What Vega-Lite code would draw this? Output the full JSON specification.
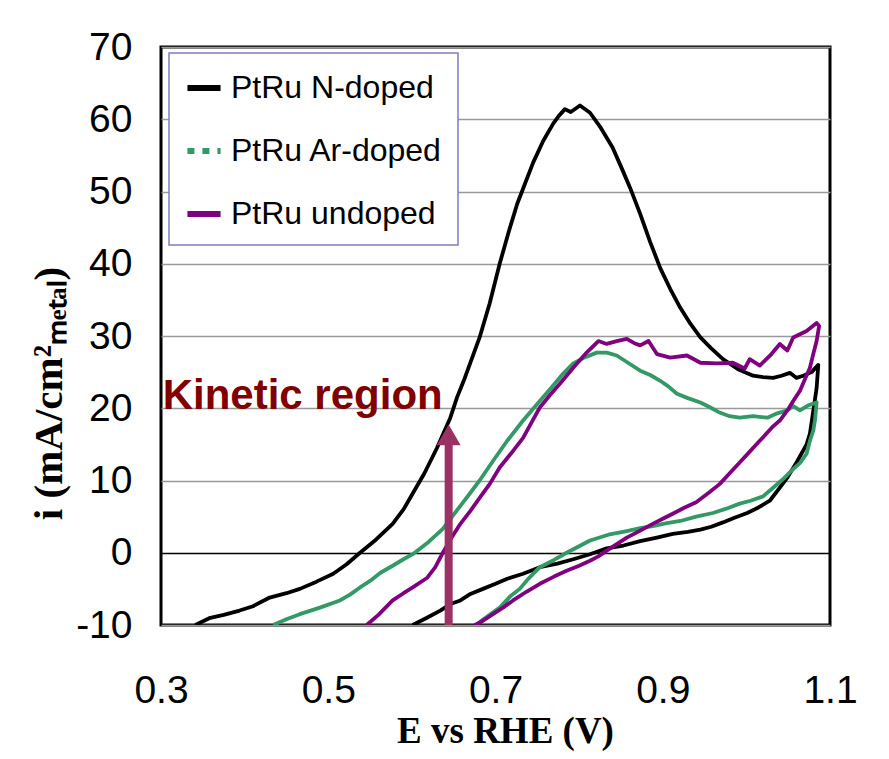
{
  "$schema": "https://vega.github.io/schema/vega-lite/v6.json",
  "autosize": {"type": "none"},
  "width": 669,
  "height": 578,
  "padding": {"left": 161, "top": 47, "right": 59, "bottom": 134},
  "background": "white",
  "datasets": {
    "curves": [
      {"s":"PtRu N-doped","i":1,"E":0.341,"j":-10.0},{"s":"PtRu N-doped","i":2,"E":0.359,"j":-9.0},{"s":"PtRu N-doped","i":3,"E":0.375,"j":-8.6},{"s":"PtRu N-doped","i":4,"E":0.394,"j":-8.0},{"s":"PtRu N-doped","i":5,"E":0.41,"j":-7.4},{"s":"PtRu N-doped","i":6,"E":0.43,"j":-6.2},{"s":"PtRu N-doped","i":7,"E":0.45,"j":-5.6},{"s":"PtRu N-doped","i":8,"E":0.466,"j":-5.0},{"s":"PtRu N-doped","i":9,"E":0.486,"j":-4.0},{"s":"PtRu N-doped","i":10,"E":0.506,"j":-2.9},{"s":"PtRu N-doped","i":11,"E":0.522,"j":-1.6},{"s":"PtRu N-doped","i":12,"E":0.538,"j":0.0},{"s":"PtRu N-doped","i":13,"E":0.557,"j":1.8},{"s":"PtRu N-doped","i":14,"E":0.577,"j":4.0},{"s":"PtRu N-doped","i":15,"E":0.59,"j":6.0},{"s":"PtRu N-doped","i":16,"E":0.601,"j":8.2},{"s":"PtRu N-doped","i":17,"E":0.615,"j":11.0},{"s":"PtRu N-doped","i":18,"E":0.63,"j":14.5},{"s":"PtRu N-doped","i":19,"E":0.646,"j":18.7},{"s":"PtRu N-doped","i":20,"E":0.654,"j":21.5},{"s":"PtRu N-doped","i":21,"E":0.662,"j":23.8},{"s":"PtRu N-doped","i":22,"E":0.681,"j":29.8},{"s":"PtRu N-doped","i":23,"E":0.693,"j":34.5},{"s":"PtRu N-doped","i":24,"E":0.705,"j":40.0},{"s":"PtRu N-doped","i":25,"E":0.716,"j":44.5},{"s":"PtRu N-doped","i":26,"E":0.726,"j":48.3},{"s":"PtRu N-doped","i":27,"E":0.735,"j":51.0},{"s":"PtRu N-doped","i":28,"E":0.745,"j":54.0},{"s":"PtRu N-doped","i":29,"E":0.757,"j":57.0},{"s":"PtRu N-doped","i":30,"E":0.769,"j":59.4},{"s":"PtRu N-doped","i":31,"E":0.776,"j":60.5},{"s":"PtRu N-doped","i":32,"E":0.783,"j":61.4},{"s":"PtRu N-doped","i":33,"E":0.79,"j":61.0},{"s":"PtRu N-doped","i":34,"E":0.801,"j":61.9},{"s":"PtRu N-doped","i":35,"E":0.813,"j":60.9},{"s":"PtRu N-doped","i":36,"E":0.826,"j":58.8},{"s":"PtRu N-doped","i":37,"E":0.84,"j":56.1},{"s":"PtRu N-doped","i":38,"E":0.851,"j":53.2},{"s":"PtRu N-doped","i":39,"E":0.861,"j":50.5},{"s":"PtRu N-doped","i":40,"E":0.873,"j":46.9},{"s":"PtRu N-doped","i":41,"E":0.885,"j":43.0},{"s":"PtRu N-doped","i":42,"E":0.897,"j":39.4},{"s":"PtRu N-doped","i":43,"E":0.909,"j":36.5},{"s":"PtRu N-doped","i":44,"E":0.921,"j":33.9},{"s":"PtRu N-doped","i":45,"E":0.933,"j":31.7},{"s":"PtRu N-doped","i":46,"E":0.945,"j":29.8},{"s":"PtRu N-doped","i":47,"E":0.958,"j":28.3},{"s":"PtRu N-doped","i":48,"E":0.972,"j":26.8},{"s":"PtRu N-doped","i":49,"E":0.99,"j":25.4},{"s":"PtRu N-doped","i":50,"E":1.008,"j":24.5},{"s":"PtRu N-doped","i":51,"E":1.02,"j":24.3},{"s":"PtRu N-doped","i":52,"E":1.032,"j":24.2},{"s":"PtRu N-doped","i":53,"E":1.042,"j":24.5},{"s":"PtRu N-doped","i":54,"E":1.052,"j":24.9},{"s":"PtRu N-doped","i":55,"E":1.06,"j":24.2},{"s":"PtRu N-doped","i":56,"E":1.068,"j":24.5},{"s":"PtRu N-doped","i":57,"E":1.078,"j":25.0},{"s":"PtRu N-doped","i":58,"E":1.086,"j":26.0},{"s":"PtRu N-doped","i":59,"E":1.084,"j":22.8},{"s":"PtRu N-doped","i":60,"E":1.08,"j":19.6},{"s":"PtRu N-doped","i":61,"E":1.076,"j":16.5},{"s":"PtRu N-doped","i":62,"E":1.072,"j":15.0},{"s":"PtRu N-doped","i":63,"E":1.061,"j":12.7},{"s":"PtRu N-doped","i":64,"E":1.049,"j":10.4},{"s":"PtRu N-doped","i":65,"E":1.04,"j":9.0},{"s":"PtRu N-doped","i":66,"E":1.028,"j":7.2},{"s":"PtRu N-doped","i":67,"E":1.015,"j":6.3},{"s":"PtRu N-doped","i":68,"E":1.001,"j":5.5},{"s":"PtRu N-doped","i":69,"E":0.985,"j":4.8},{"s":"PtRu N-doped","i":70,"E":0.972,"j":4.2},{"s":"PtRu N-doped","i":71,"E":0.958,"j":3.6},{"s":"PtRu N-doped","i":72,"E":0.945,"j":3.2},{"s":"PtRu N-doped","i":73,"E":0.93,"j":2.9},{"s":"PtRu N-doped","i":74,"E":0.912,"j":2.6},{"s":"PtRu N-doped","i":75,"E":0.893,"j":2.1},{"s":"PtRu N-doped","i":76,"E":0.873,"j":1.6},{"s":"PtRu N-doped","i":77,"E":0.853,"j":1.0},{"s":"PtRu N-doped","i":78,"E":0.833,"j":0.6},{"s":"PtRu N-doped","i":79,"E":0.813,"j":-0.2},{"s":"PtRu N-doped","i":80,"E":0.793,"j":-0.9},{"s":"PtRu N-doped","i":81,"E":0.774,"j":-1.5},{"s":"PtRu N-doped","i":82,"E":0.753,"j":-2.0},{"s":"PtRu N-doped","i":83,"E":0.733,"j":-2.9},{"s":"PtRu N-doped","i":84,"E":0.714,"j":-3.6},{"s":"PtRu N-doped","i":85,"E":0.7,"j":-4.3},{"s":"PtRu N-doped","i":86,"E":0.685,"j":-5.0},{"s":"PtRu N-doped","i":87,"E":0.67,"j":-5.7},{"s":"PtRu N-doped","i":88,"E":0.658,"j":-6.6},{"s":"PtRu N-doped","i":89,"E":0.646,"j":-7.1},{"s":"PtRu N-doped","i":90,"E":0.634,"j":-8.0},{"s":"PtRu N-doped","i":91,"E":0.618,"j":-9.0},{"s":"PtRu N-doped","i":92,"E":0.601,"j":-10.0},
      {"s":"PtRu Ar-doped","i":1,"E":0.434,"j":-10.0},{"s":"PtRu Ar-doped","i":2,"E":0.45,"j":-9.2},{"s":"PtRu Ar-doped","i":3,"E":0.466,"j":-8.5},{"s":"PtRu Ar-doped","i":4,"E":0.49,"j":-7.6},{"s":"PtRu Ar-doped","i":5,"E":0.514,"j":-6.6},{"s":"PtRu Ar-doped","i":6,"E":0.526,"j":-5.8},{"s":"PtRu Ar-doped","i":7,"E":0.538,"j":-4.8},{"s":"PtRu Ar-doped","i":8,"E":0.55,"j":-3.9},{"s":"PtRu Ar-doped","i":9,"E":0.562,"j":-2.8},{"s":"PtRu Ar-doped","i":10,"E":0.577,"j":-1.8},{"s":"PtRu Ar-doped","i":11,"E":0.59,"j":-0.9},{"s":"PtRu Ar-doped","i":12,"E":0.601,"j":-0.2},{"s":"PtRu Ar-doped","i":13,"E":0.62,"j":1.5},{"s":"PtRu Ar-doped","i":14,"E":0.637,"j":3.3},{"s":"PtRu Ar-doped","i":15,"E":0.658,"j":6.5},{"s":"PtRu Ar-doped","i":16,"E":0.67,"j":8.3},{"s":"PtRu Ar-doped","i":17,"E":0.681,"j":10.0},{"s":"PtRu Ar-doped","i":18,"E":0.697,"j":12.7},{"s":"PtRu Ar-doped","i":19,"E":0.714,"j":15.5},{"s":"PtRu Ar-doped","i":20,"E":0.733,"j":18.3},{"s":"PtRu Ar-doped","i":21,"E":0.753,"j":21.0},{"s":"PtRu Ar-doped","i":22,"E":0.768,"j":23.0},{"s":"PtRu Ar-doped","i":23,"E":0.781,"j":24.8},{"s":"PtRu Ar-doped","i":24,"E":0.793,"j":26.2},{"s":"PtRu Ar-doped","i":25,"E":0.806,"j":27.0},{"s":"PtRu Ar-doped","i":26,"E":0.821,"j":27.7},{"s":"PtRu Ar-doped","i":27,"E":0.833,"j":27.7},{"s":"PtRu Ar-doped","i":28,"E":0.845,"j":27.3},{"s":"PtRu Ar-doped","i":29,"E":0.857,"j":26.4},{"s":"PtRu Ar-doped","i":30,"E":0.873,"j":25.2},{"s":"PtRu Ar-doped","i":31,"E":0.885,"j":24.6},{"s":"PtRu Ar-doped","i":32,"E":0.897,"j":23.8},{"s":"PtRu Ar-doped","i":33,"E":0.907,"j":23.0},{"s":"PtRu Ar-doped","i":34,"E":0.917,"j":22.0},{"s":"PtRu Ar-doped","i":35,"E":0.93,"j":21.4},{"s":"PtRu Ar-doped","i":36,"E":0.945,"j":20.8},{"s":"PtRu Ar-doped","i":37,"E":0.957,"j":20.1},{"s":"PtRu Ar-doped","i":38,"E":0.968,"j":19.4},{"s":"PtRu Ar-doped","i":39,"E":0.98,"j":18.9},{"s":"PtRu Ar-doped","i":40,"E":0.992,"j":18.7},{"s":"PtRu Ar-doped","i":41,"E":1.008,"j":18.9},{"s":"PtRu Ar-doped","i":42,"E":1.025,"j":18.7},{"s":"PtRu Ar-doped","i":43,"E":1.037,"j":19.3},{"s":"PtRu Ar-doped","i":44,"E":1.049,"j":19.7},{"s":"PtRu Ar-doped","i":45,"E":1.056,"j":20.3},{"s":"PtRu Ar-doped","i":46,"E":1.064,"j":19.7},{"s":"PtRu Ar-doped","i":47,"E":1.074,"j":20.4},{"s":"PtRu Ar-doped","i":48,"E":1.084,"j":20.8},{"s":"PtRu Ar-doped","i":49,"E":1.082,"j":18.3},{"s":"PtRu Ar-doped","i":50,"E":1.08,"j":16.9},{"s":"PtRu Ar-doped","i":51,"E":1.076,"j":15.5},{"s":"PtRu Ar-doped","i":52,"E":1.072,"j":13.7},{"s":"PtRu Ar-doped","i":53,"E":1.064,"j":12.4},{"s":"PtRu Ar-doped","i":54,"E":1.056,"j":11.6},{"s":"PtRu Ar-doped","i":55,"E":1.044,"j":10.2},{"s":"PtRu Ar-doped","i":56,"E":1.032,"j":9.0},{"s":"PtRu Ar-doped","i":57,"E":1.02,"j":7.8},{"s":"PtRu Ar-doped","i":58,"E":1.005,"j":7.2},{"s":"PtRu Ar-doped","i":59,"E":0.992,"j":6.8},{"s":"PtRu Ar-doped","i":60,"E":0.976,"j":6.1},{"s":"PtRu Ar-doped","i":61,"E":0.96,"j":5.5},{"s":"PtRu Ar-doped","i":62,"E":0.94,"j":5.0},{"s":"PtRu Ar-doped","i":63,"E":0.921,"j":4.4},{"s":"PtRu Ar-doped","i":64,"E":0.905,"j":4.1},{"s":"PtRu Ar-doped","i":65,"E":0.888,"j":3.7},{"s":"PtRu Ar-doped","i":66,"E":0.873,"j":3.4},{"s":"PtRu Ar-doped","i":67,"E":0.857,"j":3.0},{"s":"PtRu Ar-doped","i":68,"E":0.835,"j":2.5},{"s":"PtRu Ar-doped","i":69,"E":0.813,"j":1.7},{"s":"PtRu Ar-doped","i":70,"E":0.8,"j":0.9},{"s":"PtRu Ar-doped","i":71,"E":0.785,"j":0.0},{"s":"PtRu Ar-doped","i":72,"E":0.77,"j":-1.0},{"s":"PtRu Ar-doped","i":73,"E":0.753,"j":-2.0},{"s":"PtRu Ar-doped","i":74,"E":0.74,"j":-3.5},{"s":"PtRu Ar-doped","i":75,"E":0.729,"j":-5.0},{"s":"PtRu Ar-doped","i":76,"E":0.718,"j":-6.0},{"s":"PtRu Ar-doped","i":77,"E":0.705,"j":-7.6},{"s":"PtRu Ar-doped","i":78,"E":0.693,"j":-8.6},{"s":"PtRu Ar-doped","i":79,"E":0.681,"j":-9.6},{"s":"PtRu Ar-doped","i":80,"E":0.677,"j":-10.0},
      {"s":"PtRu undoped","i":1,"E":0.546,"j":-10.0},{"s":"PtRu undoped","i":2,"E":0.56,"j":-8.6},{"s":"PtRu undoped","i":3,"E":0.577,"j":-6.6},{"s":"PtRu undoped","i":4,"E":0.59,"j":-5.6},{"s":"PtRu undoped","i":5,"E":0.601,"j":-4.8},{"s":"PtRu undoped","i":6,"E":0.618,"j":-3.5},{"s":"PtRu undoped","i":7,"E":0.628,"j":-2.0},{"s":"PtRu undoped","i":8,"E":0.637,"j":0.0},{"s":"PtRu undoped","i":9,"E":0.647,"j":2.0},{"s":"PtRu undoped","i":10,"E":0.658,"j":4.0},{"s":"PtRu undoped","i":11,"E":0.67,"j":5.8},{"s":"PtRu undoped","i":12,"E":0.681,"j":7.6},{"s":"PtRu undoped","i":13,"E":0.693,"j":9.5},{"s":"PtRu undoped","i":14,"E":0.705,"j":11.8},{"s":"PtRu undoped","i":15,"E":0.719,"j":13.8},{"s":"PtRu undoped","i":16,"E":0.733,"j":15.9},{"s":"PtRu undoped","i":17,"E":0.743,"j":18.0},{"s":"PtRu undoped","i":18,"E":0.753,"j":20.1},{"s":"PtRu undoped","i":19,"E":0.765,"j":21.8},{"s":"PtRu undoped","i":20,"E":0.777,"j":23.4},{"s":"PtRu undoped","i":21,"E":0.793,"j":25.6},{"s":"PtRu undoped","i":22,"E":0.809,"j":27.7},{"s":"PtRu undoped","i":23,"E":0.823,"j":29.3},{"s":"PtRu undoped","i":24,"E":0.833,"j":28.9},{"s":"PtRu undoped","i":25,"E":0.845,"j":29.3},{"s":"PtRu undoped","i":26,"E":0.857,"j":29.6},{"s":"PtRu undoped","i":27,"E":0.866,"j":29.0},{"s":"PtRu undoped","i":28,"E":0.873,"j":28.7},{"s":"PtRu undoped","i":29,"E":0.883,"j":29.3},{"s":"PtRu undoped","i":30,"E":0.893,"j":27.5},{"s":"PtRu undoped","i":31,"E":0.909,"j":27.0},{"s":"PtRu undoped","i":32,"E":0.929,"j":27.3},{"s":"PtRu undoped","i":33,"E":0.945,"j":26.3},{"s":"PtRu undoped","i":34,"E":0.965,"j":26.2},{"s":"PtRu undoped","i":35,"E":0.984,"j":26.3},{"s":"PtRu undoped","i":36,"E":0.998,"j":25.5},{"s":"PtRu undoped","i":37,"E":1.004,"j":26.8},{"s":"PtRu undoped","i":38,"E":1.016,"j":25.9},{"s":"PtRu undoped","i":39,"E":1.03,"j":27.5},{"s":"PtRu undoped","i":40,"E":1.04,"j":28.9},{"s":"PtRu undoped","i":41,"E":1.049,"j":28.0},{"s":"PtRu undoped","i":42,"E":1.056,"j":29.8},{"s":"PtRu undoped","i":43,"E":1.072,"j":30.7},{"s":"PtRu undoped","i":44,"E":1.084,"j":31.8},{"s":"PtRu undoped","i":45,"E":1.087,"j":31.4},{"s":"PtRu undoped","i":46,"E":1.084,"j":29.3},{"s":"PtRu undoped","i":47,"E":1.08,"j":27.5},{"s":"PtRu undoped","i":48,"E":1.076,"j":25.6},{"s":"PtRu undoped","i":49,"E":1.07,"j":24.0},{"s":"PtRu undoped","i":50,"E":1.064,"j":22.4},{"s":"PtRu undoped","i":51,"E":1.056,"j":21.0},{"s":"PtRu undoped","i":52,"E":1.049,"j":19.7},{"s":"PtRu undoped","i":53,"E":1.04,"j":18.3},{"s":"PtRu undoped","i":54,"E":1.032,"j":17.5},{"s":"PtRu undoped","i":55,"E":1.016,"j":15.5},{"s":"PtRu undoped","i":56,"E":1.004,"j":14.0},{"s":"PtRu undoped","i":57,"E":0.992,"j":12.5},{"s":"PtRu undoped","i":58,"E":0.98,"j":11.0},{"s":"PtRu undoped","i":59,"E":0.968,"j":9.5},{"s":"PtRu undoped","i":60,"E":0.955,"j":8.3},{"s":"PtRu undoped","i":61,"E":0.94,"j":7.0},{"s":"PtRu undoped","i":62,"E":0.925,"j":6.2},{"s":"PtRu undoped","i":63,"E":0.912,"j":5.4},{"s":"PtRu undoped","i":64,"E":0.9,"j":4.7},{"s":"PtRu undoped","i":65,"E":0.888,"j":4.0},{"s":"PtRu undoped","i":66,"E":0.872,"j":3.0},{"s":"PtRu undoped","i":67,"E":0.857,"j":2.1},{"s":"PtRu undoped","i":68,"E":0.845,"j":1.2},{"s":"PtRu undoped","i":69,"E":0.833,"j":0.3},{"s":"PtRu undoped","i":70,"E":0.823,"j":-0.5},{"s":"PtRu undoped","i":71,"E":0.813,"j":-1.1},{"s":"PtRu undoped","i":72,"E":0.8,"j":-1.8},{"s":"PtRu undoped","i":73,"E":0.785,"j":-2.5},{"s":"PtRu undoped","i":74,"E":0.77,"j":-3.3},{"s":"PtRu undoped","i":75,"E":0.753,"j":-4.3},{"s":"PtRu undoped","i":76,"E":0.737,"j":-5.4},{"s":"PtRu undoped","i":77,"E":0.721,"j":-6.6},{"s":"PtRu undoped","i":78,"E":0.709,"j":-7.6},{"s":"PtRu undoped","i":79,"E":0.697,"j":-8.5},{"s":"PtRu undoped","i":80,"E":0.681,"j":-9.7},{"s":"PtRu undoped","i":81,"E":0.675,"j":-10.0}
    ],
    "arrow": [{"E": 0.644, "j1": -10, "j2": 15.2, "tip": 16.3}],
    "note": [{"E": 0.302, "j": 19.9, "t": "Kinetic region"}]
  },
  "layer": [
    {
      "data": {"name": "curves"},
      "mark": {"type": "line", "strokeWidth": 3.8, "clip": true, "strokeJoin": "round"},
      "encoding": {
        "x": {"field": "E", "type": "quantitative",
              "scale": {"domain": [0.3, 1.1], "nice": false, "zero": false},
              "axis": {"values": [0.3, 0.5, 0.7, 0.9, 1.1], "format": ".1f", "grid": false, "domain": false, "ticks": false,
                       "labelFlush": false, "labelOverlap": false, "labelPadding": 46,
                       "labelFont": "Liberation Sans", "labelFontSize": 39, "labelColor": "#000",
                       "title": "E vs RHE (V)", "titleFont": "Liberation Serif", "titleFontWeight": "bold", "titleFontSize": 37,
                       "titleColor": "#000", "titleX": 344, "titleY": 117, "titleBaseline": "alphabetic", "titleAlign": "center"}},
        "y": {"field": "j", "type": "quantitative",
              "scale": {"domain": [-10, 70], "nice": false, "zero": false},
              "axis": {"values": [-10, 0, 10, 20, 30, 40, 50, 60, 70], "grid": true, "domain": false, "ticks": false,
                       "labelExpr": "replace(datum.label, '\u2212', '-')",
                       "gridColor": {"condition": {"test": "datum.value === 0", "value": "#000"}, "value": "#999"},
                       "gridWidth": 1.5, "labelOverlap": false, "labelPadding": 29,
                       "labelFont": "Liberation Sans", "labelFontSize": 39, "labelColor": "#000",
                       "title": "i (mA/cm²ₘₑₜₐₗ)", "titleFont": "Liberation Serif", "titleFontWeight": "bold", "titleFontSize": 41,
                       "titleColor": "#000", "titleX": -100, "titleY": 346, "titleAngle": -90, "titleBaseline": "alphabetic", "titleAlign": "center"}},
        "color": {"field": "s", "type": "nominal",
                  "scale": {"domain": ["PtRu N-doped", "PtRu Ar-doped", "PtRu undoped"], "range": ["#000000", "#339966", "#800080"]},
                  "legend": {"title": null, "orient": "none", "legendX": 8, "legendY": 6, "direction": "vertical",
                             "symbolType": "stroke", "symbolSize": 1100, "symbolStrokeWidth": 6,
                             "labelFont": "Liberation Sans", "labelFontSize": 32, "labelColor": "#000", "labelLimit": 400, "labelOffset": 7,
                             "rowPadding": 27, "padding": 15, "strokeColor": "#7f7fbf", "fillColor": "#ffffff",
                             "encode": {"symbols": {"update": {"strokeDash": {"signal": "datum.value === 'PtRu Ar-doped' ? [7, 8] : null"}}}}}},
        "order": {"field": "i", "type": "quantitative"}
      }
    },
    {
      "data": {"name": "arrow"},
      "mark": {"type": "rule", "color": "#993366", "strokeWidth": 8},
      "encoding": {"x": {"field": "E", "type": "quantitative"}, "y": {"field": "j1", "type": "quantitative"}, "y2": {"field": "j2"}}
    },
    {
      "data": {"name": "arrow"},
      "mark": {"type": "point", "shape": "triangle-up", "filled": true, "color": "#993366", "size": 576, "opacity": 1},
      "encoding": {"x": {"field": "E", "type": "quantitative"}, "y": {"field": "tip", "type": "quantitative"}}
    },
    {
      "data": {"name": "note"},
      "mark": {"type": "text", "font": "Liberation Sans", "fontWeight": "bold", "fontSize": 42, "color": "#800000", "align": "left", "baseline": "alphabetic"},
      "encoding": {"x": {"field": "E", "type": "quantitative"}, "y": {"field": "j", "type": "quantitative"}, "text": {"field": "t"}}
    }
  ],
  "config": {
    "view": {"stroke": "#000", "strokeWidth": 3},
    "legend": {"strokeWidth": 1.5}
  }
}
